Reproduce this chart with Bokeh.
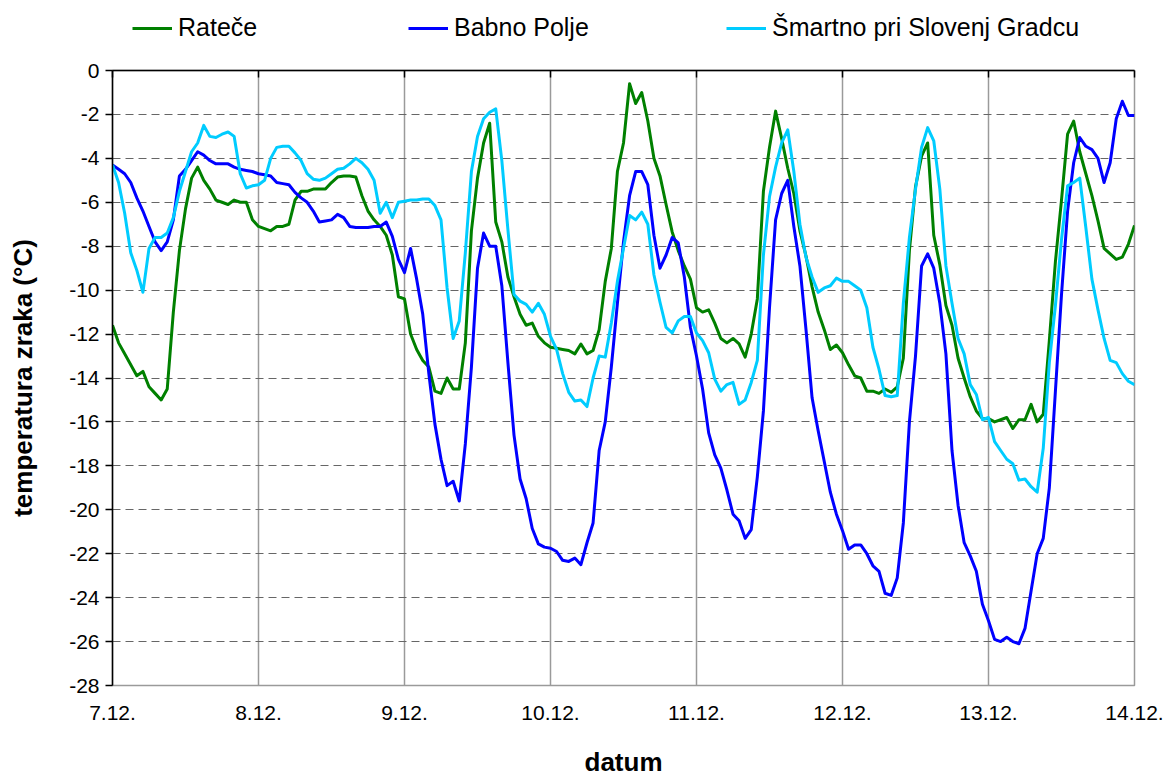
from bokeh.plotting import figure
from bokeh.layouts import column
from bokeh.models import (ColumnDataSource, FixedTicker, LinearAxis, Legend,
                          LegendItem, Range1d)
from bokeh.embed import file_html
from bokeh.resources import INLINE

# ---------------- data (hourly air temperature, °C) ----------------
series_names = ["Rateče", "Babno Polje", "Šmartno pri Slovenj Gradcu"]
series_colors = ["#008000", "#0000FF", "#00CCFF"]

day_ticks = [0, 24, 48, 72, 96, 120, 144, 168]
day_labels = ["7.12.", "8.12.", "9.12.", "10.12.", "11.12.", "12.12.", "13.12.", "14.12."]

y_ticks = [0, -2, -4, -6, -8, -10, -12, -14, -16, -18, -20, -22, -24, -26, -28]
y_labels = ["0", "-2", "-4", "-6", "-8", "-10", "-12", "-14", "-16", "-18",
            "-20", "-22", "-24", "-26", "-28"]

ratece = [
    -11.6, -12.4, -12.9, -13.4, -13.9, -13.7, -14.4, -14.7, -15.0, -14.5,
    -11.0, -8.2, -6.3, -4.9, -4.4, -5.0, -5.4, -5.9, -6.0, -6.1,
    -5.9, -6.0, -6.0, -6.8, -7.1, -7.2, -7.3, -7.1, -7.1, -7.0,
    -5.9, -5.5, -5.5, -5.4, -5.4, -5.4, -5.1, -4.85, -4.8, -4.8,
    -4.85, -5.7, -6.4, -6.8, -7.1, -7.5, -8.4, -10.3, -10.4, -12.0,
    -12.7, -13.2, -13.5, -14.6, -14.7, -14.0, -14.5, -14.5, -12.4, -7.3,
    -4.9, -3.3, -2.4, -6.9, -7.8, -9.4, -10.3, -11.1, -11.6, -11.5,
    -12.1, -12.4, -12.6, -12.65, -12.7, -12.75, -12.9, -12.45, -12.9, -12.75,
    -11.8, -9.6, -8.1, -4.6, -3.3, -0.6, -1.5, -1.0, -2.3, -4.0,
    -4.8, -6.1, -7.35, -8.2, -8.9, -9.5, -10.8, -11.0, -10.9, -11.5,
    -12.2, -12.4, -12.2, -12.45, -13.05, -12.0, -10.4, -5.5, -3.5, -1.85,
    -3.1, -4.45, -5.6, -7.3, -8.45, -9.85, -11.0, -11.8, -12.7, -12.5,
    -12.85, -13.4, -13.9, -14.0, -14.6, -14.6, -14.7, -14.5, -14.65, -14.4,
    -13.1, -8.2, -5.3, -3.9, -3.3, -7.5, -8.85, -10.7, -11.6, -13.1,
    -14.0, -14.85, -15.5, -15.85, -15.85, -16.0, -15.9, -15.8, -16.3, -15.9,
    -15.9, -15.2, -16.0, -15.65, -12.3, -8.7, -5.9, -2.9, -2.3, -3.7,
    -4.7, -5.7, -6.85, -8.1, -8.35, -8.6, -8.5, -7.9, -7.05,
]

babno_polje = [
    -4.3, -4.5, -4.7, -5.1, -5.8, -6.4, -7.1, -7.8, -8.2, -7.8,
    -6.8, -4.8, -4.5, -4.1, -3.7, -3.85, -4.1, -4.25, -4.25, -4.25,
    -4.4, -4.5, -4.55, -4.6, -4.7, -4.75, -4.8, -5.1, -5.15, -5.2,
    -5.55, -5.8, -6.0, -6.4, -6.9, -6.85, -6.8, -6.55, -6.7, -7.1,
    -7.15, -7.15, -7.15, -7.1, -7.1, -6.9, -7.55, -8.6, -9.2, -8.1,
    -9.5, -11.1, -13.8, -16.1, -17.7, -18.9, -18.7, -19.6, -17.0, -13.5,
    -9.0, -7.4, -8.0, -8.0, -9.8, -13.3, -16.6, -18.6, -19.5, -20.85,
    -21.55, -21.7, -21.75, -21.9, -22.3, -22.35, -22.2, -22.5, -21.5, -20.6,
    -17.3, -16.0, -13.5, -10.6, -7.8, -5.7, -4.6, -4.6, -5.2, -7.5,
    -9.0, -8.4, -7.6, -7.85, -9.4, -11.7, -13.0, -14.5, -16.5, -17.5,
    -18.1, -19.1, -20.2, -20.5, -21.3, -20.9, -18.5, -15.5, -10.8, -6.8,
    -5.6, -5.0, -7.1, -8.9, -11.8, -14.9, -16.4, -17.8, -19.2, -20.2,
    -20.95, -21.8, -21.6, -21.6, -22.0, -22.55, -22.8, -23.8, -23.9, -23.1,
    -20.6, -16.0, -13.0, -8.9, -8.35, -9.0, -10.6, -12.9, -17.3, -19.8,
    -21.5, -22.1, -22.8, -24.3, -25.05, -25.9, -26.0, -25.8, -26.0, -26.1,
    -25.4, -23.7, -22.0, -21.3, -19.0, -14.6, -10.2, -6.4, -4.2, -3.05,
    -3.45, -3.6, -4.0, -5.1, -4.2, -2.2, -1.4, -2.05, -2.05,
]

smartno = [
    -4.3, -5.1, -6.5, -8.3, -9.1, -10.1, -8.1, -7.6, -7.6, -7.4,
    -6.7, -5.5, -4.6, -3.7, -3.3, -2.5, -3.0, -3.05, -2.9, -2.8,
    -3.0, -4.7, -5.35, -5.25, -5.2, -5.0, -4.0, -3.5, -3.45, -3.45,
    -3.75, -4.1, -4.7, -4.95, -5.0, -4.9, -4.7, -4.5, -4.45, -4.25,
    -4.0, -4.2, -4.5, -5.0, -6.5, -6.0, -6.7, -6.0, -5.95, -5.9,
    -5.9, -5.85, -5.85, -6.15, -6.8, -9.9, -12.2, -11.4, -8.3, -4.6,
    -3.0, -2.2, -1.9, -1.75, -4.1, -7.25, -10.2, -10.5, -10.65, -11.0,
    -10.6, -11.1, -12.1, -12.7, -13.8, -14.65, -15.05, -15.0, -15.3, -14.0,
    -13.0, -13.05, -11.5, -9.6, -8.1, -6.6, -6.8, -6.45, -7.0, -9.3,
    -10.55, -11.7, -11.95, -11.4, -11.2, -11.2, -11.95, -12.3, -12.85, -14.05,
    -14.6, -14.3, -14.2, -15.2, -15.0, -14.2, -13.2, -8.4, -5.75, -4.4,
    -3.3, -2.7, -4.6, -7.0, -8.5, -9.4, -10.1, -9.9, -9.8, -9.45,
    -9.6, -9.6, -9.8, -10.0, -10.8, -12.6, -13.6, -14.8, -14.85, -14.8,
    -10.6, -7.6, -5.4, -3.5, -2.6, -3.2, -5.4, -8.9, -10.6, -12.2,
    -12.9, -14.3, -14.75, -15.9, -15.8, -16.9, -17.3, -17.7, -17.9, -18.65,
    -18.6, -18.95, -19.2, -17.2, -13.3, -10.7, -7.7, -5.25, -5.1, -4.9,
    -7.15, -9.5, -10.9, -12.2, -13.2, -13.3, -13.8, -14.15, -14.3,
]

hours = list(range(len(ratece)))

# ---------------- figure ----------------
FONT = "Liberation Sans"
LEGEND_H = 56

p = figure(width=1174, height=779 - LEGEND_H, output_backend="svg",
           toolbar_location=None,
           x_range=Range1d(0, 168), y_range=Range1d(-28, 0),
           min_border_left=112, min_border_right=40,
           min_border_top=70 - LEGEND_H, min_border_bottom=93)
p.background_fill_color = "white"
p.border_fill_color = "white"
p.outline_line_color = "#9a9a9a"
p.outline_line_width = 1.5

# bottom x axis: labels only
xa = p.xaxis[0]
xa.ticker = FixedTicker(ticks=day_ticks)
xa.major_label_overrides = {t: l for t, l in zip(day_ticks, day_labels)}
xa.axis_line_color = None
xa.major_tick_line_color = None
xa.minor_tick_line_color = None
xa.major_label_text_font = FONT
xa.major_label_text_font_size = "21px"
xa.major_label_text_color = "black"
xa.major_label_standoff = 14
xa.axis_label = "datum"
xa.axis_label_text_font = FONT
xa.axis_label_text_font_size = "26px"
xa.axis_label_text_font_style = "bold"
xa.axis_label_text_color = "black"
xa.axis_label_standoff = 24

# top axis (category axis crossing at 0): black line with inward ticks
top = LinearAxis(ticker=FixedTicker(ticks=day_ticks))
top.axis_line_color = "black"
top.axis_line_width = 1.5
top.major_tick_line_color = "black"
top.major_tick_line_width = 1.5
top.major_tick_in = 7
top.major_tick_out = 0
top.minor_tick_line_color = None
top.major_label_text_font_size = "0px"
top.major_label_text_alpha = 0
top.major_label_standoff = 0
p.add_layout(top, "above")

# left y axis
ya = p.yaxis[0]
ya.ticker = FixedTicker(ticks=y_ticks)
ya.major_label_overrides = {t: l for t, l in zip(y_ticks, y_labels)}
ya.axis_line_color = "black"
ya.axis_line_width = 1.5
ya.major_tick_line_color = "black"
ya.major_tick_line_width = 1.5
ya.major_tick_in = 0
ya.major_tick_out = 7
ya.minor_tick_line_color = None
ya.major_label_text_font = FONT
ya.major_label_text_font_size = "21px"
ya.major_label_text_color = "black"
ya.major_label_standoff = 6
ya.axis_label = "temperatura zraka (°C)"
ya.axis_label_text_font = FONT
ya.axis_label_text_font_size = "26px"
ya.axis_label_text_font_style = "bold"
ya.axis_label_text_color = "black"
ya.axis_label_standoff = 28

# grids
p.xgrid.ticker = FixedTicker(ticks=day_ticks)
p.xgrid.grid_line_color = "#9a9a9a"
p.xgrid.grid_line_width = 1.5
p.ygrid.ticker = FixedTicker(ticks=y_ticks)
p.ygrid.grid_line_color = "#666666"
p.ygrid.grid_line_width = 1.2
p.ygrid.grid_line_dash = "8 5"

# lines
src = ColumnDataSource(dict(h=hours, r=ratece, b=babno_polje, s=smartno))
for col, color in zip(["r", "b", "s"], series_colors):
    p.line("h", col, source=src, line_color=color, line_width=3, line_join="round")

# ---------------- legend strip above the chart ----------------
# (the column layout aligns this strip's frame with the chart frame, x = 112..1134)
lf = figure(width=1174, height=LEGEND_H, output_backend="svg", toolbar_location=None,
            x_axis_type=None, y_axis_type=None, min_border=0,
            x_range=Range1d(0, 1), y_range=Range1d(0, 1))
lf.outline_line_color = None
lf.xgrid.visible = False
lf.ygrid.visible = False
legend_x = [20, 296, 614]
for name, color, lx in zip(series_names, series_colors, legend_x):
    proxy = ColumnDataSource(dict(x=[float("nan")], y=[float("nan")]))
    r = lf.line("x", "y", source=proxy, line_color=color, line_width=3)
    lg = Legend(items=[LegendItem(label=name, renderers=[r])],
                location=(lx, 14), orientation="horizontal",
                border_line_color=None, background_fill_alpha=0,
                padding=0, margin=0, spacing=0,
                glyph_width=40, glyph_height=28, label_standoff=6,
                label_text_font=FONT, label_text_font_size="25px",
                label_text_color="black")
    lf.add_layout(lg, "center")

layout = column(lf, p, spacing=0)
open("out.html", "w").write(file_html(layout, INLINE))
